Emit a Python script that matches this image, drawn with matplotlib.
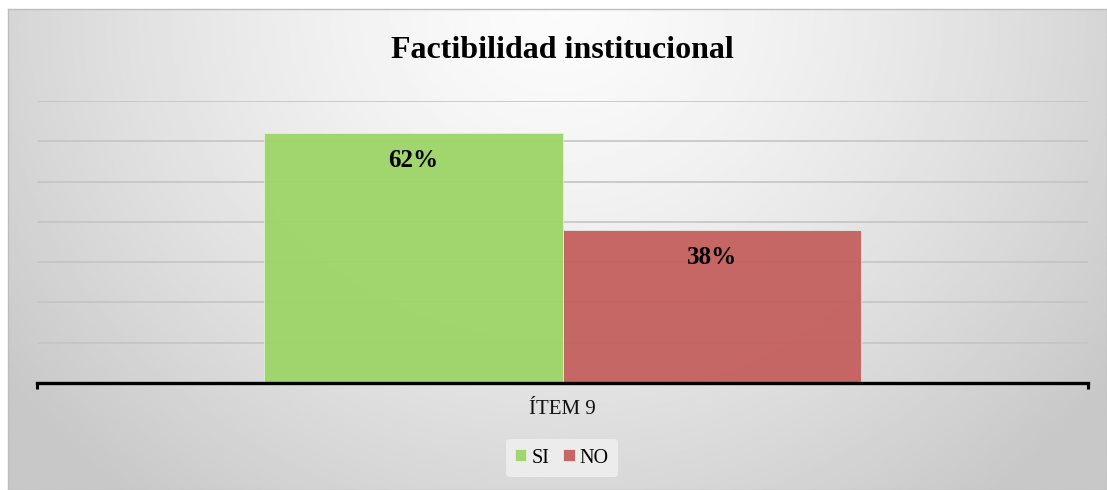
import numpy as np
import matplotlib.pyplot as plt

plt.rcParams['font.family'] = ['Liberation Serif', 'DejaVu Serif']

# data
categoria = 'ÍTEM 9'
series = ['SI', 'NO']
valores = [0.62, 0.38]
colores = ['#9dd467', '#c4605e']

fig = plt.figure(figsize=(11.07, 4.9), dpi=100)

# fondo con degradado gris (como el del grafico de Excel)
bg = fig.add_axes([8 / 1107, 0, 1 - 8 / 1107, (490 - 9) / 490])
xx, yy = np.meshgrid(np.linspace(0, 1, 400), np.linspace(0, 1, 200))
d = np.sqrt(((xx - 0.5) / 0.62) ** 2 + (yy / 1.3) ** 2)
shade = 0.985 - 0.20 * np.clip(d, 0, 1) ** 1.4
bg.imshow(shade, cmap='gray', vmin=0, vmax=1, aspect='auto', extent=[0, 1, 0, 1],
          origin='upper', interpolation='bilinear')
bg.set_xticks([])
bg.set_yticks([])
for s in bg.spines.values():
    s.set_color('#bdbdbd')
    s.set_linewidth(1)

ax = fig.add_axes([37 / 1107, (490 - 383) / 490, (1088 - 37) / 1107, (383 - 101) / 490])
ax.patch.set_alpha(0)

w = 298 / 1050
pos = [-w / 2, w / 2]
for p, v, c, s in zip(pos, valores, colores, series):
    ax.bar(p, v, width=w, color=c, alpha=0.95, edgecolor='#e6f0dc', linewidth=0.6,
           label=s, zorder=2)
    ax.text(p, v - 0.068, f'{round(v * 100)}%', ha='center', va='center',
            fontsize=18, fontweight='bold', color='black', zorder=3)

ax.set_xlim(-0.5, 0.5)
ax.set_ylim(0, 0.70)
ax.set_yticks(np.arange(0.1, 0.71, 0.1))
ax.yaxis.grid(True, color='#c4c4c4', linewidth=1.2, zorder=0)
ax.set_axisbelow(True)
ax.tick_params(axis='y', length=0, labelleft=False)
ax.set_xticks([-0.5, 0.5])
ax.set_xticklabels(['', ''])
ax.tick_params(axis='x', direction='out', length=4, width=2.2, color='black')
for s in ['top', 'right', 'left']:
    ax.spines[s].set_visible(False)
ax.spines['bottom'].set_color('black')
ax.spines['bottom'].set_linewidth(2.4)

ax.text(0.5, -26 / 282, categoria, transform=ax.transAxes, ha='center', va='center',
        fontsize=15, color='#111111')

fig.text(562 / 1107, 1 - 50 / 490, 'Factibilidad institucional', ha='center', va='center',
         fontsize=23, fontweight='bold')

leg = fig.legend(loc='center', bbox_to_anchor=(562 / 1107, 1 - 458 / 490), ncol=2,
                 frameon=True, fontsize=14.5, handlelength=0.55, handleheight=0.55,
                 handletextpad=0.25, columnspacing=0.7, borderpad=0.45)
leg.get_frame().set_facecolor('#ececec')
leg.get_frame().set_edgecolor('none')
leg.get_frame().set_alpha(1)

fig.savefig('out.png', dpi=100)
